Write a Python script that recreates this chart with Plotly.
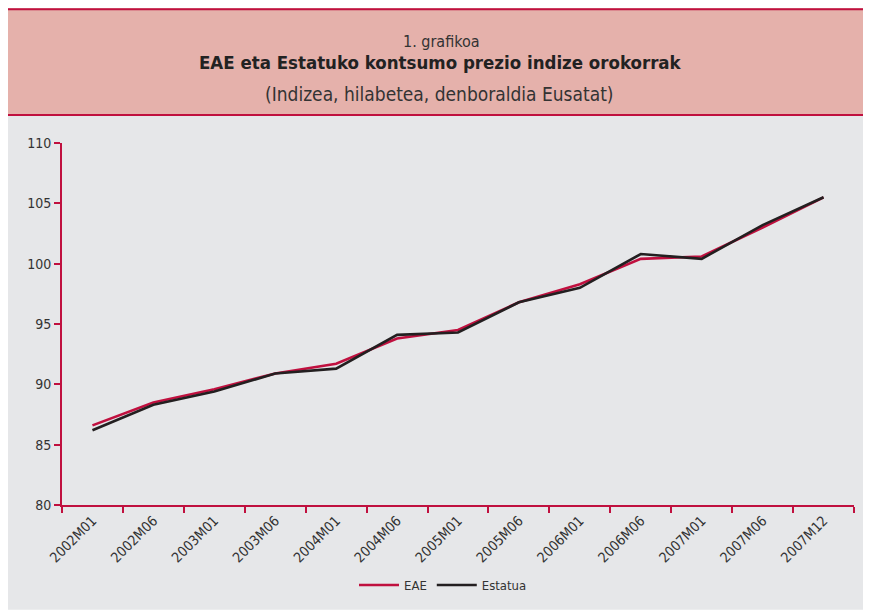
import plotly.graph_objects as go

# datuak (grafikotik irakurriak)
periods = ["2002M01", "2002M06", "2003M01", "2003M06", "2004M01", "2004M06", "2005M01",
           "2005M06", "2006M01", "2006M06", "2007M01", "2007M06", "2007M12"]
eae = [86.6, 88.5, 89.6, 90.9, 91.7, 93.8, 94.5, 96.8, 98.3, 100.4, 100.6, 103.0, 105.5]
estatua = [86.2, 88.3, 89.4, 90.9, 91.3, 94.1, 94.3, 96.8, 98.0, 100.8, 100.4, 103.2, 105.5]

# the page puts the figure 8px in from the top-left corner (body margin)
OFF = 8
W, H = 871 - OFF, 611 - OFF
L, R, T, B = 62 - OFF, 854 - OFF, 143 - OFF, 506 - OFF   # plot area, figure pixels
CRIMSON = "#C0103F"
PINK = "#E5B1AB"
GRAY = "#E6E7E9"
TXT = "#333333"
FONT = "Liberation Sans Narrow, DejaVu Sans Condensed, Arial Narrow, sans-serif"

def px(x):
    # page pixel -> paper fraction
    return (x - OFF - L) / (R - L)

def py(y):
    return (B - (y - OFF)) / (B - T)

fig = go.Figure()
fig.add_trace(go.Scatter(x=periods, y=eae, mode="lines", name="EAE",
                         line=dict(color=CRIMSON, width=2.6)))
fig.add_trace(go.Scatter(x=periods, y=estatua, mode="lines", name="Estatua",
                         line=dict(color="#231F20", width=2.6)))

shapes = [
    dict(type="rect", xref="paper", yref="paper", x0=px(0), x1=px(871), y0=py(116), y1=py(611),
         fillcolor=GRAY, line_width=0, layer="below"),
    dict(type="rect", xref="paper", yref="paper", x0=px(0), x1=px(871), y0=py(8), y1=py(115),
         fillcolor=PINK, line_width=0, layer="below"),
    dict(type="line", xref="paper", yref="paper", x0=px(0), x1=px(871), y0=py(9), y1=py(9),
         line=dict(color=CRIMSON, width=2)),
    dict(type="line", xref="paper", yref="paper", x0=px(0), x1=px(871), y0=py(115), y1=py(115),
         line=dict(color=CRIMSON, width=2)),
]

annotations = [
    dict(text="1. grafikoa", x=px(441), y=py(41), font=dict(size=16, color=TXT, family=FONT)),
    dict(text="<b>EAE eta Estatuko kontsumo prezio indize orokorrak</b>", x=px(440), y=py(62),
         font=dict(size=18.5, color="#222222", family=FONT)),
    dict(text="(Indizea, hilabetea, denboraldia Eusatat)", x=px(439), y=py(94),
         font=dict(size=19, color=TXT, family=FONT)),
]
for a in annotations:
    a.update(xref="paper", yref="paper", showarrow=False, xanchor="center", yanchor="middle")

fig.update_layout(
    width=W, height=H,
    margin=dict(l=L, r=W - R, t=T, b=H - B, pad=0),
    paper_bgcolor="white", plot_bgcolor=GRAY,
    font=dict(family=FONT, color=TXT, size=13),
    shapes=shapes, annotations=annotations,
    showlegend=True,
    legend=dict(orientation="h", x=px(443), xanchor="center", y=py(585), yanchor="middle",
                font=dict(size=13, color=TXT), bgcolor="rgba(0,0,0,0)", itemwidth=40),
)
fig.update_xaxes(type="category", range=[-0.5, len(periods) - 0.5], tickson="boundaries",
                 ticks="outside", ticklen=6, tickcolor=CRIMSON, tickwidth=1.5,
                 showline=True, linecolor=CRIMSON, linewidth=2, showgrid=False, zeroline=False,
                 tickangle=-45, tickfont=dict(size=14, color=TXT))
fig.update_yaxes(range=[80, 110], dtick=5, ticks="outside", ticklen=6, tickcolor=CRIMSON,
                 tickwidth=1.5, showline=True, linecolor=CRIMSON, linewidth=2, showgrid=False,
                 zeroline=False, tickfont=dict(size=14, color=TXT))

fig.write_html("out.html")
